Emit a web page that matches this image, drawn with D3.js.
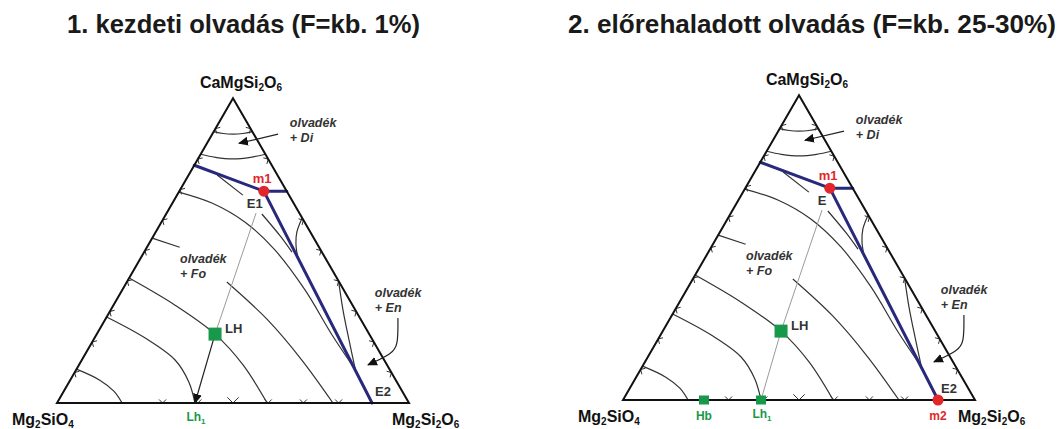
<!DOCTYPE html>
<html>
<head>
<meta charset="utf-8">
<script src="https://cdn.jsdelivr.net/npm/d3@7"></script>
<style>
  body { margin: 0; background: #fff; }
  svg { display: block; font-family: "Liberation Sans", Arial, sans-serif; }
</style>
</head>
<body>
<svg id="chart" width="1062" height="429"></svg>
<script>
// Compositions are [Di %, En %]  (Fo % = 100 - Di - En)
const titles = ['1. kezdeti olvadás (F=kb. 1%)', '2. előrehaladott olvadás (F=kb. 25-30%)'];

// isotherms in the diopside field
const diIsotherms = [
  [[89, 0], [88.4, 3], [88.2, 5.9], [88.4, 8.6], [89, 11]],
  [[81.6, 0], [80.6, 4.7], [80.1, 9.95], [80.6, 14.7], [81.6, 18.4]]
];

// isotherms in the forsterite field (some broken by the labels)
const foIsotherms = [
  [[11.1, 0], [7.5, 8.4], [3.9, 14.2], [0, 18.5]],
  [[28.2, 0], [21.3, 14.4], [14.1, 26.5], [6.9, 34.0], [0, 39.2]],
  [[41, 0], [32.1, 17.5], [22.6, 33.6], [12.5, 46.6], [0, 59.7]],
  [[54.1, 0], [51.1, 9.3]],
  [[39.7, 28.4], [27.5, 45.9], [14.1, 62.5], [0, 78.4]],
  [[69.2, 0], [65.6, 11.2], [59.3, 23.8], [50.2, 36.8], [37, 52], [22.3, 67.0], [12.1, 78.0]],
  [[74.8, 8.1], [68.2, 18.7]],
  [[62, 27.2], [54.8, 36.0], [49.5, 42.0]]
];

// isotherms in the enstatite field
const enIsotherms = [
  [[60.7, 39.3], [56.1, 40.1], [51.8, 42.0], [47.5, 44.7]],
  [[40, 60], [30.5, 66.0], [20.7, 72.6], [10.2, 79.8]]
];

// cotectic boundaries
const boundaries = [
  [[78, 0], [69.5, 24]],
  [[69.5, 24], [69.5, 30.5]],
  [[69.5, 24], [0, 89.5]]
];

const ticksFoDi = [10, 20, 30, 40, 50, 60, 70, 80, 90];   // Di % on the Fo-Di side
const ticksDiEn = [10, 20, 30, 40, 50, 60, 80, 90];       // Di % on the Di-En side
const ticksFoEn = [30, 40, 50, 60, 70, 80];               // En % on the Fo-En side

const m1 = [69.5, 24];
const E2 = [0, 89.5];
const LH = [22.6, 33.6];
const Lh1 = [0, 39.2];
const Hb = [0, 23];
const tieStart = [62.3, 25.4];

const labelDi = [90.5, 20.9];
const labelFo = [45.9, 12.0];
const labelEn = [34.8, 72.9];
const arrowDi = [[88.2, 18.7], [85.2, 9.1]];
const arrowEn = [[27.9, 82.9], [19.0, 87.4], [16.1, 87.1], [12.5, 82.1]];

const svg = d3.select('#chart');
const blue = '#29297c', red = '#e2262b', green = '#18984a';

const defs = svg.append('defs');
defs.append('marker')
  .attr('id', 'arrowHead')
  .attr('viewBox', '0 0 10 10')
  .attr('refX', 9).attr('refY', 5)
  .attr('markerWidth', 10).attr('markerHeight', 10)
  .attr('markerUnits', 'userSpaceOnUse')
  .attr('orient', 'auto')
  .append('path')
  .attr('d', 'M0,0.5 L10,5 L0,9.5 Z')
  .attr('fill', '#111');

// titles
svg.selectAll('.title')
  .data(titles)
  .enter().append('text')
  .attr('class', 'title')
  .attr('x', (d, i) => i === 0 ? 67 : 568)
  .attr('y', 33)
  .attr('textLength', (d, i) => i === 0 ? 353 : 488)
  .attr('lengthAdjust', 'spacingAndGlyphs')
  .style('font-size', '26px')
  .style('font-weight', 'bold')
  .style('fill', '#1a1a1a')
  .text(d => d);

// text with subscripts, parts = [[text, sub?], ...]
function richText(g, x, y, parts, size, subSize, color, anchor) {
  const t = g.append('text')
    .attr('x', x).attr('y', y)
    .attr('text-anchor', anchor || 'start')
    .style('font-size', size + 'px')
    .style('font-weight', 'bold')
    .style('fill', color);
  let shifted = false;
  parts.forEach(([s, sub]) => {
    const ts = t.append('tspan').text(s);
    if (sub && !shifted) { ts.attr('dy', 3).style('font-size', subSize + 'px'); shifted = true; }
    else if (sub) { ts.style('font-size', subSize + 'px'); }
    else if (shifted) { ts.attr('dy', -3); shifted = false; }
  });
  return t;
}

function drawPanel(opts) {
  const side = 352;
  const h = side * Math.sqrt(3) / 2;
  const xs = d3.scaleLinear().domain([0, 100]).range([opts.x0, opts.x0 + side]);
  const ys = d3.scaleLinear().domain([0, 100]).range([opts.y0, opts.y0 - h]);
  const proj = ([di, en]) => [xs(en + di / 2), ys(di)];

  const g = svg.append('g');
  const curve = d3.line().x(d => proj(d)[0]).y(d => proj(d)[1]).curve(d3.curveCatmullRom.alpha(0.5));
  const straight = d3.line().x(d => proj(d)[0]).y(d => proj(d)[1]);

  // isotherms
  g.selectAll('.iso')
    .data(diIsotherms.concat(foIsotherms, enIsotherms))
    .enter().append('path')
    .attr('d', d => curve(d))
    .attr('fill', 'none')
    .attr('stroke', '#333')
    .attr('stroke-width', 1.2);

  // edge ticks (small chevrons on the sides)
  const tickPts = [];
  ticksFoDi.forEach(v => tickPts.push({ p: proj([v, 0]), n: [0.866, 0.5], big: false }));
  ticksDiEn.forEach(v => tickPts.push({ p: proj([v, 100 - v]), n: [-0.866, 0.5], big: false }));
  ticksFoEn.forEach(v => tickPts.push({ p: proj([0, v]), n: [0, -1], big: v === 50 }));
  g.selectAll('.tick')
    .data(tickPts)
    .enter().append('path')
    .attr('d', d => {
      const L = d.big ? 8 : 5, a = Math.PI / 4;
      const [nx, ny] = d.n;
      const r1 = [nx * Math.cos(a) - ny * Math.sin(a), nx * Math.sin(a) + ny * Math.cos(a)];
      const r2 = [nx * Math.cos(-a) - ny * Math.sin(-a), nx * Math.sin(-a) + ny * Math.cos(-a)];
      const [px, py] = d.p;
      return `M${px + r1[0] * L},${py + r1[1] * L}L${px},${py}L${px + r2[0] * L},${py + r2[1] * L}`;
    })
    .attr('fill', 'none')
    .attr('stroke', '#333')
    .attr('stroke-width', 1);

  // tie line from eutectic through LH
  const tie = opts.tieToBase ? [tieStart, LH, Lh1] : [tieStart, LH];
  g.append('path')
    .attr('d', straight(tie))
    .attr('fill', 'none')
    .attr('stroke', '#9a9a9a')
    .attr('stroke-width', 1);

  // cotectic boundaries
  g.selectAll('.bnd')
    .data(boundaries)
    .enter().append('path')
    .attr('d', d => straight(d))
    .attr('fill', 'none')
    .attr('stroke', blue)
    .attr('stroke-width', 3)
    .attr('stroke-linecap', 'round');

  // triangle
  g.append('path')
    .attr('d', straight([[0, 0], [0, 100], [100, 0]]) + 'Z')
    .attr('fill', 'none')
    .attr('stroke', '#111')
    .attr('stroke-width', 2)
    .attr('stroke-linejoin', 'miter');

  // arrows to the phase fields
  g.append('path')
    .attr('d', straight(arrowDi))
    .attr('fill', 'none').attr('stroke', '#222').attr('stroke-width', 1.2)
    .attr('marker-end', 'url(#arrowHead)');
  g.append('path')
    .attr('d', d3.line().x(d => proj(d)[0]).y(d => proj(d)[1]).curve(d3.curveBasis)(arrowEn))
    .attr('fill', 'none').attr('stroke', '#222').attr('stroke-width', 1.2)
    .attr('marker-end', 'url(#arrowHead)');
  if (opts.arrowToLh) {
    g.append('path')
      .attr('d', straight([LH, Lh1]))
      .attr('fill', 'none').attr('stroke', '#222').attr('stroke-width', 1.2)
      .attr('marker-end', 'url(#arrowHead)');
  }

  // phase field labels
  [[labelDi, 'Di'], [labelFo, 'Fo'], [labelEn, 'En']].forEach(([pos, min]) => {
    const [lx, ly] = proj(pos);
    const t = g.append('text')
      .attr('x', lx).attr('y', ly)
      .style('font-size', '12.5px').style('font-weight', 'bold').style('font-style', 'italic')
      .style('fill', '#333');
    t.append('tspan').attr('x', lx).text('olvadék');
    t.append('tspan').attr('x', lx).attr('dy', 15).text('+ ' + min);
  });

  // points
  const [lhx, lhy] = proj(LH);
  g.append('rect').attr('x', lhx - 6.5).attr('y', lhy - 6.5).attr('width', 13).attr('height', 13).attr('fill', green);
  g.append('text').attr('x', lhx + 10).attr('y', lhy - 1)
    .style('font-size', '13px').style('font-weight', 'bold').style('fill', '#333').text('LH');

  (opts.basePoints || []).forEach(v => {
    const [bx, by] = proj(v);
    g.append('rect').attr('x', bx - 5).attr('y', by - 4.5).attr('width', 10).attr('height', 9).attr('fill', green);
  });

  const [mx, my] = proj(m1);
  g.append('circle').attr('cx', mx).attr('cy', my).attr('r', 5.5).attr('fill', red);
  g.append('text').attr('x', mx - 11).attr('y', my - 8)
    .style('font-size', '13px').style('font-weight', 'bold').style('fill', red).text('m1');
  g.append('text').attr('x', mx - (opts.eLabel === 'E' ? 12 : 17)).attr('y', my + 17)
    .style('font-size', '13px').style('font-weight', 'bold').style('fill', '#333').text(opts.eLabel);

  const [ex, ey] = proj(E2);
  if (opts.showM2) {
    g.append('circle').attr('cx', ex).attr('cy', ey).attr('r', 5.5).attr('fill', red);
    g.append('text').attr('x', ex).attr('y', ey + 20).attr('text-anchor', 'middle')
      .style('font-size', '12px').style('font-weight', 'bold').style('fill', red).text('m2');
  }
  g.append('text').attr('x', ex + 3).attr('y', ey - 7)
    .style('font-size', '13px').style('font-weight', 'bold').style('fill', '#333').text('E2');

  const [lx1, ly1] = proj(Lh1);
  richText(g, lx1 + 1, ly1 + 18, [['Lh', false], ['1', true]], 12, 8, green, 'middle');
  if (opts.showHb) {
    const [hx, hy] = proj(Hb);
    g.append('text').attr('x', hx).attr('y', hy + 20).attr('text-anchor', 'middle')
      .style('font-size', '12px').style('font-weight', 'bold').style('fill', green).text('Hb');
  }

  // vertex labels
  const [dx, dy] = proj([100, 0]);
  richText(g, dx + 8, dy - 10, [['CaMgSi', false], ['2', true], ['O', false], ['6', true]], 16, 10, '#111', 'middle');
  const [fx, fy] = proj([0, 0]);
  richText(g, fx - 45, fy + 22, [['Mg', false], ['2', true], ['SiO', false], ['4', true]], 16, 10, '#111', 'start');
  const [nx, ny] = proj([0, 100]);
  richText(g, nx - 17, ny + 22, [['Mg', false], ['2', true], ['Si', false], ['2', true], ['O', false], ['6', true]], 16, 10, '#111', 'start');
}

drawPanel({ x0: 57, y0: 403, eLabel: 'E1', arrowToLh: true, tieToBase: false });
drawPanel({ x0: 623, y0: 400, eLabel: 'E', arrowToLh: false, tieToBase: true, basePoints: [Lh1, Hb], showHb: true, showM2: true });
</script>
</body>
</html>
